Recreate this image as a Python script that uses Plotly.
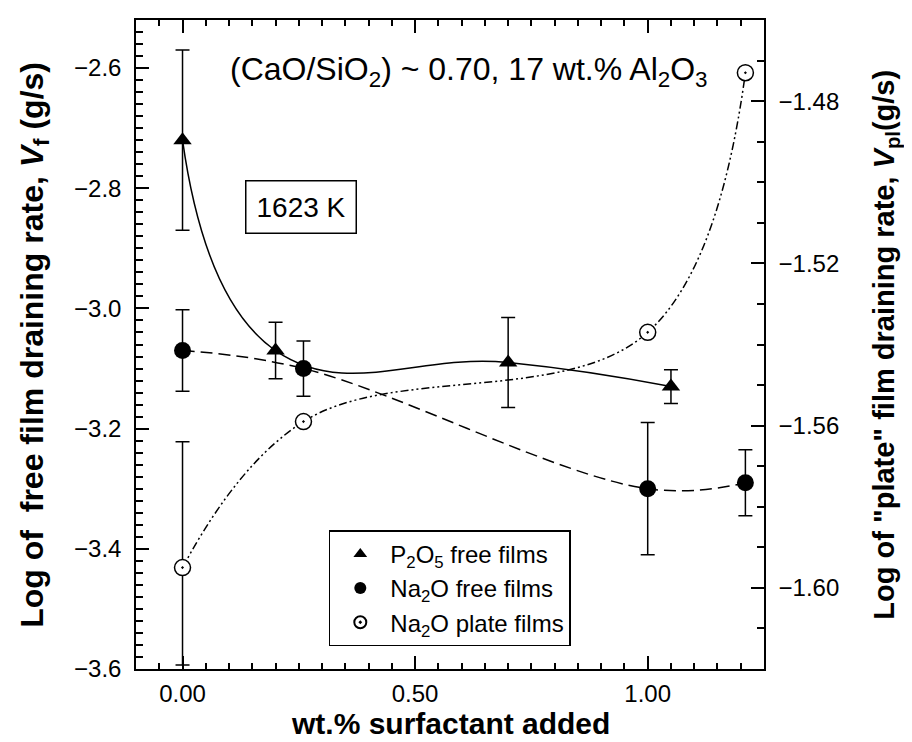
import plotly.graph_objects as go

# ---- data ----
p2o5_x = [0.0, 0.20, 0.70, 1.05]
p2o5_y = [-2.72, -3.07, -3.09, -3.13]
p2o5_err = [0.15, 0.047, 0.075, 0.028]

na2o_x = [0.0, 0.26, 1.00, 1.21]
na2o_y = [-3.07, -3.10, -3.30, -3.29]
na2o_err = [0.068, 0.046, 0.11, 0.055]

plate_x = [0.0, 0.26, 1.00, 1.21]
plate_y = [-1.595, -1.559, -1.537, -1.473]
plate_err_plus = [0.031, 0.0, 0.0, 0.0]
plate_err_minus = [0.024, 0.0, 0.0, 0.0]

x_labelvals = [0.0, 0.50, 1.00]
x_labeltext = ["0.00", "0.50", "1.00"]
x_midvals = [0.25, 0.75, 1.25]
y_tickvals = [-3.6, -3.4, -3.2, -3.0, -2.8, -2.6]
y2_tickvals = [-1.60, -1.56, -1.52, -1.48]

X_RANGE = [-0.1, 1.25]

FONT = "Liberation Sans, Arial, sans-serif"
BLACK = "#000000"

fig = go.Figure()

# fitted curves (lines only)
fig.add_trace(go.Scatter(x=p2o5_x, y=p2o5_y, mode="lines", showlegend=False,
                         line=dict(color=BLACK, width=1.5, shape="spline", smoothing=1.3),
                         hoverinfo="skip"))
fig.add_trace(go.Scatter(x=na2o_x, y=na2o_y, mode="lines", showlegend=False,
                         line=dict(color=BLACK, width=1.5, shape="spline", smoothing=1.1,
                                   dash="12px,6px"),
                         hoverinfo="skip"))
fig.add_trace(go.Scatter(x=plate_x, y=plate_y, mode="lines", showlegend=False, yaxis="y2",
                         line=dict(color=BLACK, width=1.5, shape="spline", smoothing=1.1,
                                   dash="8px,3px,2px,3px,2px,3px"),
                         hoverinfo="skip"))

# markers with error bars
fig.add_trace(go.Scatter(
    x=p2o5_x, y=p2o5_y, mode="markers", name="P<sub>2</sub>O<sub>5</sub> free films",
    marker=dict(symbol="triangle-up", size=16, color=BLACK),
    error_y=dict(type="data", array=p2o5_err, color=BLACK, thickness=1.5, width=7)))
fig.add_trace(go.Scatter(
    x=na2o_x, y=na2o_y, mode="markers", name="Na<sub>2</sub>O free films",
    marker=dict(symbol="circle", size=17, color=BLACK),
    error_y=dict(type="data", array=na2o_err, color=BLACK, thickness=1.5, width=7)))
fig.add_trace(go.Scatter(
    x=plate_x, y=plate_y, mode="markers", name="Na<sub>2</sub>O plate films", yaxis="y2",
    marker=dict(symbol="circle-dot", size=16, color="white", line=dict(color=BLACK, width=1.5)),
    error_y=dict(type="data", symmetric=False, array=plate_err_plus, arrayminus=plate_err_minus,
                 color=BLACK, thickness=1.5, width=7)))

axis_common = dict(showline=True, linecolor=BLACK, linewidth=1.5, ticks="inside",
                   tickcolor=BLACK, tickwidth=1.5, ticklen=13, showgrid=False, zeroline=False,
                   tickfont=dict(family=FONT, size=24, color=BLACK))

fig.update_layout(
    width=912, height=742,
    margin=dict(l=128, r=156, t=10, b=81),
    paper_bgcolor="white", plot_bgcolor="white",
    font=dict(family=FONT, color=BLACK),
    xaxis=dict(range=X_RANGE, tickvals=x_labelvals, ticktext=x_labeltext,
               mirror="ticks", ticklabelstandoff=2,
               minor=dict(dtick=0.05, ticks="inside", ticklen=6, tickcolor=BLACK, tickwidth=1.5),
               **axis_common),
    xaxis2=dict(range=X_RANGE, overlaying="x", anchor="y", side="bottom",
                tickvals=x_midvals, showticklabels=False, mirror="ticks",
                showline=True, linecolor=BLACK, linewidth=1.5, ticks="inside",
                tickcolor=BLACK, tickwidth=1.5, ticklen=13, showgrid=False, zeroline=False),
    yaxis=dict(range=[-3.6, -2.52], tickvals=y_tickvals, tickformat=".1f",
               ticklabelstandoff=8,
               minor=dict(dtick=0.02, ticks="inside", ticklen=7, tickcolor=BLACK, tickwidth=1.5),
               **axis_common),
    yaxis2=dict(range=[-1.62, -1.46], tickvals=y2_tickvals, tickformat=".2f",
                overlaying="y", side="right", ticklabelstandoff=8,
                minor=dict(dtick=0.01, ticks="inside", ticklen=7, tickcolor=BLACK, tickwidth=1.5),
                **axis_common),
    legend=dict(x=0.307, y=0.035, xanchor="left", yanchor="bottom",
                bgcolor="white", bordercolor=BLACK, borderwidth=1.5,
                font=dict(family=FONT, size=24, color=BLACK), itemwidth=50,
                itemsizing="constant", tracegroupgap=0),
    annotations=[
        dict(text="(CaO/SiO<sub>2</sub>) ~ 0.70, 17 wt.% Al<sub>2</sub>O<sub>3</sub>",
             x=0.531, y=0.92, xref="paper", yref="paper", showarrow=False,
             xanchor="center", yanchor="middle", font=dict(family=FONT, size=32, color=BLACK)),
        dict(text="1623 K", x=0.262, y=0.712, xref="paper", yref="paper", showarrow=False,
             xanchor="center", yanchor="middle", font=dict(family=FONT, size=28, color=BLACK),
             bordercolor=BLACK, borderwidth=1.5, borderpad=10, bgcolor="white"),
        # axis titles
        dict(text="<b>wt.% surfactant added</b>", x=0.5, y=-0.0845, xref="paper", yref="paper",
             showarrow=False, xanchor="center", yanchor="middle",
             font=dict(family=FONT, size=30, color=BLACK)),
        dict(text="<b>Log of  free film draining rate, <i>V</i><sub>f</sub> (g/s)</b>",
             x=-0.162, y=0.5, xref="paper", yref="paper", textangle=-90,
             showarrow=False, xanchor="center", yanchor="middle",
             font=dict(family=FONT, size=32, color=BLACK)),
        dict(text="<b>Log of \"plate\" film draining rate, <i>V</i><sub>pl</sub>(g/s)</b>",
             x=1.193, y=0.5, xref="paper", yref="paper", textangle=-90,
             showarrow=False, xanchor="center", yanchor="middle",
             font=dict(family=FONT, size=29, color=BLACK)),
    ],
)

fig.write_html("out.html")
